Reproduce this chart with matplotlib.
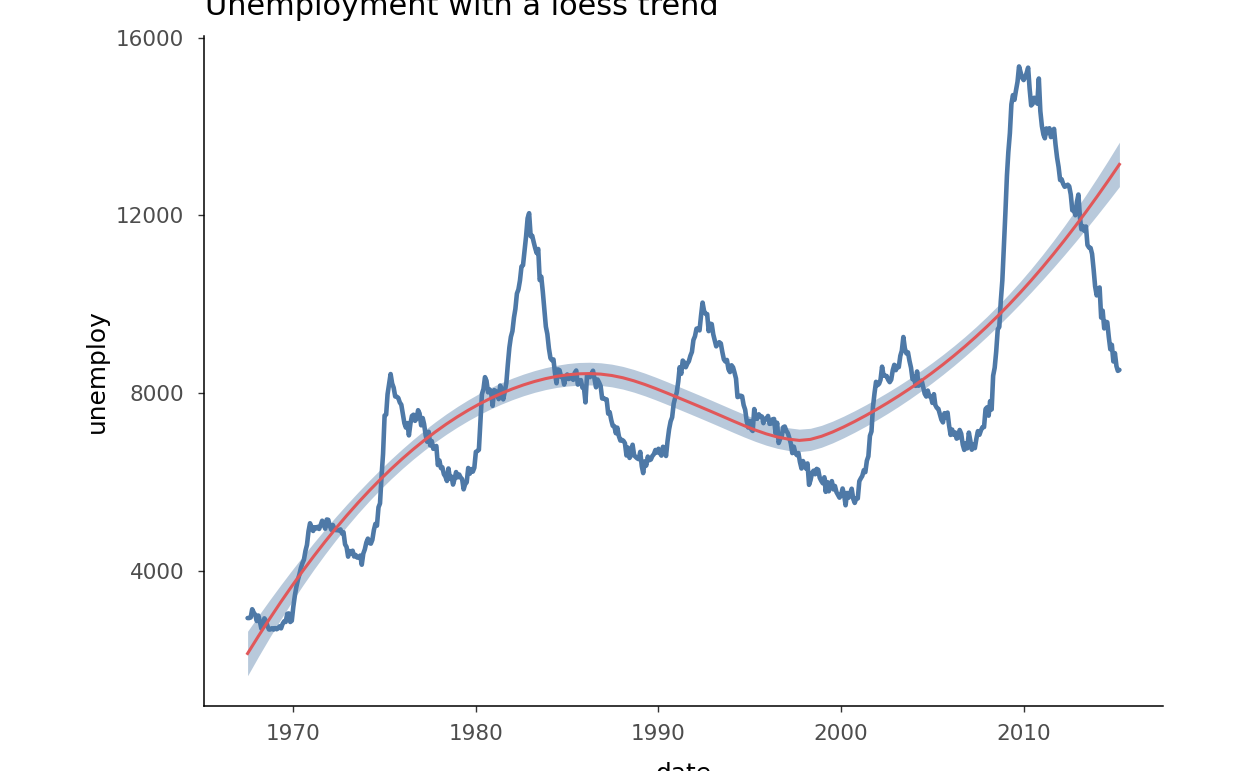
"""
Unemployment with a loess trend
"""
import numpy as np
import pandas as pd
import matplotlib
matplotlib.use("Agg")
import matplotlib.pyplot as plt
import matplotlib.dates as mdates

# monthly unemployed (thousands), Jul 1967 .. Apr 2015
unemploy_by_year = {
    1967: [2944, 2945, 2958, 3143, 3066, 3018],
    1968: [2878, 3001, 2877, 2709, 2740, 2938, 2883, 2768, 2686, 2689, 2715, 2685],
    1969: [2718, 2692, 2712, 2758, 2713, 2816, 2868, 2856, 3040, 3049, 2856, 2884],
    1970: [3201, 3453, 3635, 3797, 3919, 4071, 4175, 4256, 4456, 4591, 4898, 5076],
    1971: [4986, 4903, 4987, 4959, 4996, 4949, 5035, 5134, 5042, 4954, 5161, 5154],
    1972: [5019, 4928, 5038, 4959, 4922, 4923, 4913, 4939, 4849, 4875, 4602, 4543],
    1973: [4326, 4452, 4394, 4459, 4329, 4363, 4305, 4305, 4350, 4144, 4396, 4489],
    1974: [4644, 4731, 4634, 4618, 4705, 4927, 5063, 5022, 5437, 5523, 6140, 6636],
    1975: [7501, 7520, 7978, 8210, 8433, 8220, 8127, 7928, 7923, 7897, 7794, 7744],
    1976: [7534, 7326, 7230, 7330, 7053, 7322, 7490, 7518, 7380, 7430, 7620, 7545],
    1977: [7280, 7443, 7307, 7059, 6911, 7134, 6829, 6925, 6751, 6763, 6815, 6386],
    1978: [6489, 6318, 6337, 6180, 6127, 6028, 6309, 6080, 6125, 5947, 6077, 6228],
    1979: [6109, 6173, 6109, 6069, 5840, 5959, 5996, 6320, 6190, 6296, 6238, 6325],
    1980: [6683, 6702, 6729, 7358, 7984, 8098, 8363, 8281, 8021, 8088, 8023, 7718],
    1981: [8071, 8051, 7982, 7869, 8174, 8098, 7863, 8036, 8230, 8646, 9029, 9267],
    1982: [9397, 9705, 9895, 10244, 10335, 10538, 10849, 10881, 11217, 11529, 11938, 12051],
    1983: [11534, 11545, 11408, 11268, 11154, 11246, 10548, 10623, 10282, 9887, 9499, 9331],
    1984: [9008, 8791, 8746, 8762, 8456, 8226, 8537, 8519, 8367, 8381, 8198, 8358],
    1985: [8423, 8321, 8339, 8395, 8302, 8460, 8513, 8196, 8248, 8298, 8128, 8138],
    1986: [7795, 8402, 8383, 8364, 8439, 8508, 8319, 8135, 8310, 8243, 8159, 7883],
    1987: [7892, 7865, 7862, 7542, 7574, 7398, 7268, 7261, 7102, 7227, 7035, 6936],
    1988: [6953, 6929, 6876, 6601, 6779, 6546, 6605, 6843, 6604, 6568, 6537, 6518],
    1989: [6682, 6359, 6205, 6468, 6375, 6577, 6495, 6511, 6590, 6630, 6725, 6667],
    1990: [6752, 6651, 6598, 6797, 6742, 6590, 6922, 7188, 7368, 7459, 7764, 7901],
    1991: [8015, 8265, 8586, 8439, 8736, 8692, 8586, 8666, 8722, 8842, 8931, 9198],
    1992: [9283, 9454, 9460, 9415, 9744, 10040, 9850, 9787, 9781, 9398, 9565, 9557],
    1993: [9325, 9183, 9056, 9110, 9149, 9121, 8930, 8763, 8714, 8750, 8542, 8477],
    1994: [8630, 8583, 8470, 8331, 7915, 7927, 7946, 7933, 7734, 7632, 7375, 7230],
    1995: [7375, 7187, 7153, 7645, 7430, 7427, 7527, 7484, 7478, 7328, 7426, 7423],
    1996: [7491, 7313, 7318, 7415, 7423, 7095, 7337, 6882, 6979, 7031, 7236, 7253],
    1997: [7158, 7102, 7000, 6873, 6655, 6799, 6655, 6608, 6656, 6454, 6308, 6476],
    1998: [6368, 6306, 6422, 5941, 6047, 6212, 6259, 6179, 6300, 6280, 6100, 6032],
    1999: [5976, 6111, 5783, 6004, 5796, 5951, 6025, 5838, 5915, 5778, 5716, 5653],
    2000: [5708, 5858, 5733, 5481, 5758, 5651, 5747, 5853, 5625, 5534, 5639, 5634],
    2001: [6023, 6089, 6141, 6271, 6226, 6484, 6583, 7042, 7142, 7694, 8003, 8258],
    2002: [8182, 8215, 8304, 8599, 8399, 8393, 8390, 8304, 8251, 8307, 8520, 8640],
    2003: [8520, 8618, 8588, 8842, 8957, 9266, 9011, 8896, 8921, 8732, 8576, 8317],
    2004: [8370, 8167, 8491, 8170, 8212, 8286, 8136, 7990, 7927, 8061, 7932, 7934],
    2005: [7784, 7980, 7737, 7672, 7651, 7524, 7406, 7345, 7553, 7453, 7566, 7279],
    2006: [7064, 7184, 7072, 7120, 6980, 7001, 7175, 7091, 6847, 6727, 6872, 6762],
    2007: [7116, 6927, 6731, 6850, 6766, 6979, 7149, 7067, 7170, 7237, 7240, 7645],
    2008: [7685, 7497, 7822, 7637, 8395, 8575, 8937, 9438, 9494, 10074, 10538, 11286],
    2009: [12058, 12898, 13426, 13853, 14499, 14707, 14601, 14814, 15009, 15352, 15219, 15098],
    2010: [15046, 15113, 15202, 15325, 14849, 14474, 14512, 14648, 14579, 14516, 15081, 14348],
    2011: [14013, 13820, 13737, 13957, 13855, 13962, 13763, 13818, 13948, 13594, 13302, 13093],
    2012: [12797, 12813, 12713, 12646, 12660, 12692, 12656, 12471, 12115, 12124, 12005, 12298],
    2013: [12471, 11950, 11689, 11760, 11654, 11751, 11335, 11279, 11270, 11136, 10787, 10404],
    2014: [10202, 10349, 10380, 9702, 9859, 9460, 9608, 9599, 9262, 8990, 9090, 8717],
    2015: [8903, 8610, 8504, 8526],
}
first_month = "1967-07-01"
tick_years = [1970, 1980, 1990, 2000, 2010]
y_ticks = [4000, 8000, 12000, 16000]

LINE_COLOR = "#4E79A7"
TREND_COLOR = "#E15759"


def loess(x, y, x_eval, span=0.75):
    """
    local quadratic fit with tricube weights, like R's loess()
    returns fit, standard error and residual degrees of freedom
    """
    n = len(x)
    q = int(np.floor(n * span))
    scale = x.max() - x.min()

    def rows(points):
        out = np.zeros((len(points), n))
        for i, x0 in enumerate(points):
            d = np.abs(x - x0)
            h = np.sort(d)[q - 1]
            w = np.clip(1 - (d / h) ** 3, 0, None) ** 3
            u = (x - x0) / scale
            X = np.column_stack([np.ones(n), u, u ** 2])
            XtW = X.T * w
            out[i] = np.linalg.solve(XtW @ X, XtW)[0]
        return out

    L = rows(x)
    resid = y - L @ y
    M = np.eye(n) - L
    M = M.T @ M
    one_delta = np.trace(M)
    two_delta = np.sum(M * M)
    sigma = np.sqrt(np.sum(resid ** 2) / one_delta)
    le = rows(x_eval)
    fit = le @ y
    se = sigma * np.sqrt(np.sum(le ** 2, axis=1))
    return fit, se, one_delta ** 2 / two_delta


def unemployment_trend():
    """
    Unemployment with a loess trend
    """
    values = np.array([v for yr in sorted(unemploy_by_year) for v in unemploy_by_year[yr]],
                      dtype=float)
    dates = pd.date_range(first_month, periods=len(values), freq="MS")
    xnum = mdates.date2num(dates.to_pydatetime())

    grid = np.linspace(xnum.min(), xnum.max(), 80)
    fit, se, df = loess(xnum, values, grid)
    z = 1.959964
    tq = z + (z ** 3 + z) / (4 * df)
    lower, upper = fit - tq * se, fit + tq * se

    fig = plt.figure(figsize=(12.48, 7.71), dpi=100)
    ax = fig.add_axes([204 / 1248, 1 - 706 / 771, (1163 - 204) / 1248, (706 - 36) / 771])

    ax.plot(dates, values, color=LINE_COLOR, lw=3.3, solid_joinstyle="round",
            solid_capstyle="round", zorder=2)
    ax.fill_between(mdates.num2date(grid), lower, upper, color=LINE_COLOR,
                    alpha=0.4, lw=0, zorder=3)
    ax.plot(mdates.num2date(grid), fit, color=TREND_COLOR, lw=2.2, zorder=4)

    span = xnum.max() - xnum.min()
    ax.set_xlim(xnum.min() - 0.05 * span, xnum.max() + 0.05 * span)
    ax.set_ylim(966, 16037)

    ax.set_xticks([mdates.date2num(pd.Timestamp(f"{yr}-01-01")) for yr in tick_years])
    ax.set_xticklabels([str(yr) for yr in tick_years])
    ax.set_yticks(y_ticks)
    ax.set_yticklabels([str(v) for v in y_ticks])

    for side in ("top", "right"):
        ax.spines[side].set_visible(False)
    for side in ("left", "bottom"):
        ax.spines[side].set_linewidth(1.1)
        ax.spines[side].set_color("black")
    ax.tick_params(axis="both", length=4.3, width=1.0, color="#333333",
                   labelcolor="#4D4D4D", labelsize=15.5)
    ax.tick_params(axis="x", pad=9)
    ax.tick_params(axis="y", pad=10)

    fig.text(205 / 1248, 1 - 15 / 771, "Unemployment with a loess trend",
             fontsize=21.9, ha="left", va="baseline", color="black")
    fig.text(684 / 1248, 1 - 781 / 771, "date", fontsize=17.9,
             ha="center", va="baseline", color="black")
    fig.text(97 / 1248, 1 - 371 / 771, "unemploy", fontsize=17.9, rotation=90,
             ha="center", va="center", color="black")

    fig.savefig("out.png", dpi=100)


if __name__ == "__main__":
    unemployment_trend()
